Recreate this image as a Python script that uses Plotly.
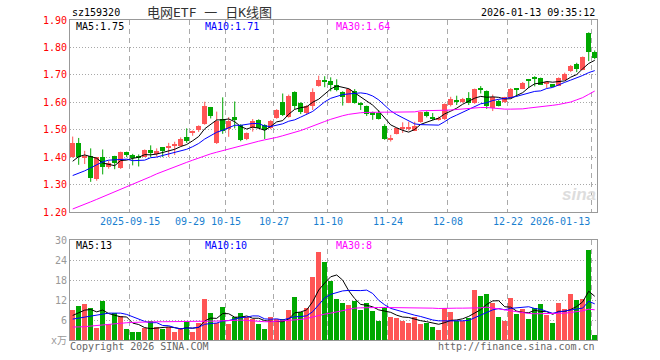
import plotly.graph_objects as go
import pandas as pd

# ---------------- data ----------------
opens = [1.401, 1.453, 1.398, 1.405, 1.322, 1.400, 1.363, 1.404, 1.360, 1.419,
         1.408, 1.404, 1.402, 1.425, 1.414, 1.436, 1.434, 1.441, 1.441, 1.472,
         1.489, 1.499, 1.521, 1.582, 1.453, 1.538, 1.502, 1.546, 1.517, 1.465,
         1.505, 1.535, 1.517, 1.505, 1.544, 1.602, 1.546, 1.637, 1.599, 1.560,
         1.588, 1.660, 1.678, 1.677, 1.664, 1.638, 1.599, 1.641, 1.599, 1.587,
         1.563, 1.560, 1.515, 1.466, 1.485, 1.503, 1.504, 1.497, 1.529, 1.566,
         1.546, 1.537, 1.539, 1.590, 1.608, 1.601, 1.616, 1.597, 1.648, 1.640,
         1.580, 1.603, 1.600, 1.616, 1.651, 1.650, 1.684, 1.690, 1.689, 1.670,
         1.665, 1.661, 1.683, 1.713, 1.738, 1.719, 1.854, 1.785]
highs = [1.475, 1.470, 1.423, 1.432, 1.400, 1.428, 1.387, 1.405, 1.420, 1.420,
         1.412, 1.410, 1.428, 1.443, 1.432, 1.437, 1.452, 1.456, 1.472, 1.505,
         1.497, 1.516, 1.602, 1.583, 1.566, 1.618, 1.546, 1.603, 1.520, 1.490,
         1.539, 1.538, 1.520, 1.535, 1.575, 1.632, 1.628, 1.640, 1.600, 1.590,
         1.651, 1.697, 1.695, 1.691, 1.684, 1.640, 1.652, 1.648, 1.600, 1.588,
         1.566, 1.572, 1.520, 1.481, 1.507, 1.527, 1.529, 1.529, 1.566, 1.567,
         1.561, 1.548, 1.596, 1.620, 1.624, 1.616, 1.637, 1.650, 1.659, 1.643,
         1.628, 1.609, 1.620, 1.652, 1.652, 1.674, 1.685, 1.695, 1.690, 1.677,
         1.666, 1.691, 1.708, 1.736, 1.744, 1.767, 1.855, 1.789]
lows = [1.398, 1.372, 1.375, 1.310, 1.314, 1.337, 1.358, 1.356, 1.357, 1.400,
        1.370, 1.366, 1.400, 1.400, 1.402, 1.400, 1.400, 1.408, 1.440, 1.452,
        1.478, 1.492, 1.518, 1.541, 1.448, 1.485, 1.474, 1.505, 1.458, 1.462,
        1.493, 1.505, 1.466, 1.502, 1.540, 1.550, 1.544, 1.575, 1.557, 1.554,
        1.572, 1.657, 1.655, 1.640, 1.640, 1.588, 1.597, 1.595, 1.572, 1.550,
        1.536, 1.537, 1.463, 1.457, 1.483, 1.488, 1.497, 1.495, 1.525, 1.545,
        1.534, 1.533, 1.535, 1.585, 1.590, 1.598, 1.590, 1.594, 1.632, 1.576,
        1.568, 1.585, 1.598, 1.614, 1.620, 1.648, 1.652, 1.658, 1.663, 1.652,
        1.657, 1.660, 1.680, 1.710, 1.710, 1.717, 1.750, 1.757]
closes = [1.452, 1.401, 1.403, 1.325, 1.399, 1.365, 1.377, 1.378, 1.419, 1.407,
          1.397, 1.397, 1.426, 1.415, 1.421, 1.424, 1.437, 1.446, 1.465, 1.458,
          1.493, 1.514, 1.587, 1.551, 1.533, 1.495, 1.530, 1.537, 1.463, 1.487,
          1.532, 1.508, 1.499, 1.532, 1.572, 1.555, 1.624, 1.588, 1.563, 1.588,
          1.638, 1.680, 1.675, 1.662, 1.643, 1.620, 1.648, 1.599, 1.590, 1.558,
          1.553, 1.540, 1.466, 1.471, 1.505, 1.506, 1.508, 1.515, 1.563, 1.549,
          1.541, 1.543, 1.593, 1.612, 1.604, 1.613, 1.597, 1.649, 1.645, 1.588,
          1.620, 1.588, 1.619, 1.650, 1.648, 1.671, 1.681, 1.687, 1.664, 1.675,
          1.659, 1.689, 1.703, 1.732, 1.723, 1.765, 1.785, 1.760]
volumes = [8.8, 10.0, 10.6, 9.4, 3.6, 11.6, 4.6, 8.1, 7.1, 3.3,
           2.4, 2.4, 3.5, 5.5, 3.8, 3.1, 3.8, 2.4, 3.6, 5.5,
           2.4, 5.1, 12.1, 7.9, 5.1, 9.7, 4.8, 6.9, 7.9, 6.9,
           6.3, 4.8, 3.3, 6.9, 6.3, 6.3, 8.8, 12.7, 8.2, 9.4,
           18.7, 26.3, 23.3, 17.6, 12.1, 10.9, 10.3, 11.5, 8.8, 10.9,
           8.5, 5.7, 9.7, 6.9, 6.6, 5.7, 5.1, 6.9, 4.8, 5.1,
           3.9, 3.0, 9.4, 8.2, 5.7, 5.7, 6.6, 14.8, 13.0, 13.6,
           10.9, 6.9, 5.7, 12.4, 7.6, 9.1, 6.3, 9.4, 10.6, 7.3,
           5.1, 10.9, 9.1, 13.6, 11.8, 12.1, 26.9, 1.5]

# moving-average values at the start of the window (need earlier days)
ma5_head = [1.385, 1.402, 1.408, 1.402]
ma10_head = [1.333, 1.341, 1.350, 1.361, 1.372, 1.383, 1.389, 1.390, 1.390]
ma30 = [1.211, 1.219, 1.228, 1.237, 1.246, 1.255, 1.264, 1.273, 1.282, 1.291,
        1.300, 1.310, 1.320, 1.329, 1.339, 1.348, 1.357, 1.365, 1.373, 1.381,
        1.389, 1.397, 1.405, 1.412, 1.418, 1.424, 1.430, 1.436, 1.442, 1.448,
        1.453, 1.458, 1.463, 1.467, 1.472, 1.478, 1.484, 1.490, 1.497, 1.505,
        1.514, 1.522, 1.530, 1.538, 1.545, 1.551, 1.556, 1.560, 1.562, 1.563,
        1.564, 1.564, 1.564, 1.564, 1.564, 1.564, 1.564, 1.565, 1.569, 1.569,
        1.570, 1.570, 1.571, 1.572, 1.574, 1.576, 1.578, 1.580, 1.581, 1.581,
        1.579, 1.576, 1.575, 1.575, 1.575, 1.576, 1.579, 1.581, 1.583, 1.585,
        1.589, 1.592, 1.596, 1.601, 1.609, 1.617, 1.629, 1.641]
vma5_head = [7.4, 8.3, 9.0, 9.2]
vma10_head = [6.3, 6.6, 7.0, 7.4, 7.7, 8.0, 8.1, 8.1, 8.1]
vma30 = [3.9, 3.9, 4.0, 4.2, 4.4, 4.6, 4.8, 5.0, 5.1, 5.2,
         5.3, 5.4, 5.5, 5.5, 5.5, 5.5, 5.5, 5.5, 5.5, 5.5,
         5.5, 5.5, 5.5, 5.6, 5.7, 5.8, 5.9, 6.0, 6.0, 5.9,
         5.7, 5.5, 5.5, 5.5, 5.6, 5.7, 5.8, 6.0, 6.2, 6.5,
         7.0, 7.4, 7.8, 8.1, 8.5, 8.9, 9.3, 9.6, 9.7, 9.8,
         9.8, 9.8, 9.8, 9.8, 9.8, 9.8, 9.8, 9.7, 9.7, 9.7,
         9.6, 9.5, 9.6, 9.6, 9.6, 9.6, 9.6, 9.6, 9.7, 9.9,
         9.7, 9.4, 9.1, 8.8, 8.5, 8.3, 8.0, 7.9, 7.9, 7.9,
         7.9, 8.0, 8.1, 8.3, 8.5, 8.8, 9.3, 9.1]

# values printed in the chart's legend texts
price_ma_names = ["MA5", "MA10", "MA30"]
price_ma_last = ["1.75", "1.71", "1.64"]
vol_ma_last = ["13", "10", "8"]

tick_idx = [10, 20, 26, 34, 43, 53, 63, 73, 87]
tick_labels = ["2025-09-15", "09-29", "10-15", "10-27", "11-10",
               "11-24", "12-08", "12-22", "2026-01-13"]
price_ticks = [1.20, 1.30, 1.40, 1.50, 1.60, 1.70, 1.80, 1.90]
vol_ticks = [0, 6, 12, 18, 24, 30]
vol_tick_text = ["x万", "6", "12", "18", "24", "30"]

code = "sz159320"
title = "电网ETF 一 日K线图"
stamp = "2026-01-13 09:35:12"

# ---------------- derived ----------------
n = len(closes)
idx = list(range(n))
cs = pd.Series(closes)
vs = pd.Series(volumes)
ma5 = ma5_head + cs.rolling(5).mean().tolist()[len(ma5_head):]
ma10 = ma10_head + cs.rolling(10).mean().tolist()[len(ma10_head):]
vma5 = vma5_head + vs.rolling(5).mean().tolist()[len(vma5_head):]
vma10 = vma10_head + vs.rolling(10).mean().tolist()[len(vma10_head):]

RED = "#ff5555"
GREEN = "#00a800"
up = [c >= o for o, c in zip(opens, closes)]
colors = [RED if u else GREEN for u in up]
ma_colors = ["#000000", "#0000ff", "#ff00ff"]

fig = go.Figure()

# wicks
for col, flag in ((RED, True), (GREEN, False)):
    xs, ys = [], []
    for i in idx:
        if up[i] == flag:
            xs += [i, i, None]
            ys += [lows[i], highs[i], None]
    fig.add_trace(go.Scatter(x=xs, y=ys, mode="lines", line=dict(color=col, width=1),
                             hoverinfo="skip", xaxis="x", yaxis="y"))

# bodies
base = [min(o, c) for o, c in zip(opens, closes)]
height = [max(abs(c - o), 0.004) for o, c in zip(opens, closes)]
fig.add_trace(go.Bar(x=idx, y=height, base=base, width=0.8,
                     marker=dict(color=colors, line=dict(width=0)),
                     xaxis="x", yaxis="y"))

# price MAs
for vals, col in zip((ma5, ma10, ma30), ma_colors):
    fig.add_trace(go.Scatter(x=idx, y=vals, mode="lines", line=dict(color=col, width=1),
                             xaxis="x", yaxis="y"))

# volume
fig.add_trace(go.Bar(x=idx, y=volumes, width=0.88,
                     marker=dict(color=colors, line=dict(width=0)),
                     xaxis="x2", yaxis="y2"))
for vals, col in zip((vma5, vma10, vma30), ma_colors):
    fig.add_trace(go.Scatter(x=idx, y=vals, mode="lines", line=dict(color=col, width=1),
                             xaxis="x2", yaxis="y2"))

MONO = "DejaVu Sans Mono, Liberation Mono, monospace"
xr = [-0.45, n - 1 + 0.38]
grid_x = [t - 0.5 for t in tick_idx]
xcommon = dict(range=xr, tickvals=grid_x, showticklabels=False, ticks="",
               showgrid=True, gridcolor="#aaaaaa", gridwidth=1, griddash="5px,4px",
               zeroline=False, showline=True, mirror=True, linecolor="#999999",
               linewidth=1, fixedrange=True)

fig.update_layout(
    width=660, height=360,
    margin=dict(l=70, r=63, t=20, b=20),
    paper_bgcolor="white", plot_bgcolor="white",
    showlegend=False, barmode="overlay", bargap=0,
    xaxis=dict(domain=[0, 1], anchor="y", **xcommon),
    xaxis2=dict(domain=[0, 1], anchor="y2", matches="x", **xcommon),
    yaxis=dict(domain=[0.4, 1.0], range=[1.20, 1.90], tickvals=price_ticks,
               tickformat=".2f", tickfont=dict(family=MONO, size=10, color="#ff0000"),
               showgrid=True, gridcolor="#a8a8a8", griddash="1px,2px",
               zeroline=False, showline=True, mirror=True, linecolor="#999999",
               ticks="", fixedrange=True),
    yaxis2=dict(domain=[0, 0.311], range=[0, 30], tickvals=vol_ticks,
                ticktext=vol_tick_text,
                tickfont=dict(family=MONO + ", Noto Sans CJK SC", size=10, color="#999999"),
                showgrid=True, gridcolor="#a8a8a8", griddash="1px,2px",
                zeroline=False, showline=True, mirror=True, linecolor="#999999",
                ticks="", fixedrange=True),
)

ann = []
def A(text, x, y, xanchor="left", color="#000", size=10, family=MONO, xref="paper", **kw):
    ann.append(dict(text=text, x=x, y=y, xref=xref, yref="paper", xanchor=xanchor,
                    yanchor="middle", showarrow=False,
                    font=dict(family=family, size=size, color=color), **kw))

A(code, 0.0, 1.022, color="#000")
A(title, 0.264, 1.025, xanchor="center", color="#333",
  size=13, family="DejaVu Sans Mono, Noto Sans CJK SC")
A(stamp, 1.0, 1.022, xanchor="right", color="#000")
legend_x = [0.008, 0.253, 0.501]
for name, val, vval, col, lx in zip(price_ma_names, price_ma_last, vol_ma_last,
                                    ma_colors, legend_x):
    A("%s:%s" % (name, val), lx, 0.981, color=col)
    A("%s:%s" % (name, vval), lx, 0.294, color=col)
A("Copyright 2026 SINA.COM", -0.003, -0.019, color="#666666")
A("http://finance.sina.com.cn", 1.0, -0.019, xanchor="right", color="#666666")
for t, lab in zip(grid_x, tick_labels):
    anchor = "right" if t == grid_x[-1] else "center"
    A(lab, t, 0.369, xanchor=anchor, color="#1a7fd0", xref="x")
A("<i><b>sina</b></i>", 0.965, 0.455, xanchor="center", color="#dddddd",
  size=17, family="Liberation Sans, Arial")
fig.update_layout(annotations=ann)

fig.write_html("out.html", config={"displayModeBar": False})
